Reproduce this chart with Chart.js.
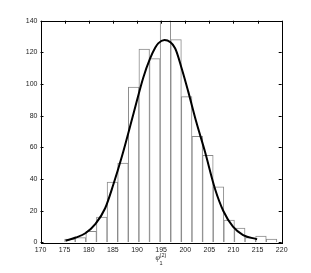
<!DOCTYPE html>
<html>
<head>
<meta charset="utf-8">
<script src="https://cdn.jsdelivr.net/npm/chart.js@4.4.1/dist/chart.umd.min.js"></script>
<style>
  html, body { margin: 0; padding: 0; background: #fff; }
  #wrap { width: 311px; height: 273px; }
</style>
</head>
<body>
<div id="wrap"><canvas id="myChart" width="311" height="273"></canvas></div>
<script>
// histogram bin centres (bin width 2.2) and counts
const binCenters = [176.1, 178.3, 180.5, 182.7, 184.9, 187.1, 189.3, 191.5, 193.7, 195.9,
                    198.1, 200.3, 202.5, 204.7, 206.9, 209.1, 211.3, 213.5, 215.7, 217.9];
const binCounts  = [2, 3, 7, 16, 38, 50, 98, 122, 116, 145,
                    128, 92, 67, 55, 35, 14, 9, 3, 4, 2];

// fitted curve
const curveX = [175.2, 177.3, 179.3, 181.4, 183.4, 185.1, 186.9, 189.3, 191.3, 192.7,
                193.8, 194.4, 195.7, 197.9, 199.3, 200.6, 202.3, 204.1, 206.2, 207.9,
                209.9, 212.0, 214.9];
const curveY = [1.0, 3.0, 5.7, 11.6, 21.5, 36.5, 54.5, 81.5, 104.0, 116.0,
                123.0, 125.7, 127.8, 122.6, 109.5, 95.5, 76.0, 57.2, 33.5, 19.8,
                9.9, 4.6, 1.9];

const xTicks = [170, 175, 180, 185, 190, 195, 200, 205, 210, 215, 220];
const yTicks = [0, 20, 40, 60, 80, 100, 120, 140];

const tickFont = { family: "'Liberation Sans', Arial, sans-serif", size: 7 };

// box + inward tick marks, and the axis label
const boxPlugin = {
    id: 'box',
    afterDraw(chart) {
        const ctx = chart.ctx;
        const a = chart.chartArea;
        const xs = chart.scales.x, ys = chart.scales.y;
        ctx.save();
        ctx.strokeStyle = '#000';
        ctx.lineWidth = 1;
        ctx.beginPath();
        xTicks.forEach(v => {
            const px = Math.round(xs.getPixelForValue(v)) + 0.5;
            ctx.moveTo(px, a.top); ctx.lineTo(px, a.top + 3);
        });
        yTicks.forEach(v => {
            const py = Math.round(ys.getPixelForValue(v)) + 0.5;
            ctx.moveTo(a.left, py); ctx.lineTo(a.left + 3, py);
            ctx.moveTo(a.right, py); ctx.lineTo(a.right - 3, py);
        });
        ctx.stroke();
        ctx.strokeRect(Math.round(a.left) + 0.5, Math.round(a.top) + 0.5,
                       Math.round(a.right - a.left), Math.round(a.bottom - a.top));

        // phi_1^(2)
        ctx.fillStyle = '#222';
        ctx.textBaseline = 'alphabetic';
        ctx.font = "italic 8px 'Liberation Serif', serif";
        ctx.fillText('φ', 155.5, 260);
        ctx.font = "5.5px 'Liberation Sans', sans-serif";
        ctx.fillText('(2)', 159.6, 256.5);
        ctx.fillText('1', 159.6, 264.5);
        ctx.restore();
    }
};

new Chart(document.getElementById('myChart').getContext('2d'), {
    type: 'bar',
    data: {
        datasets: [
            {
                type: 'line',
                data: curveX.map((x, i) => ({ x: x, y: curveY[i] })),
                borderColor: '#000',
                borderWidth: 2,
                pointRadius: 0,
                cubicInterpolationMode: 'monotone',
                fill: false,
                order: 0
            },
            {
                type: 'bar',
                data: binCenters.map((x, i) => ({ x: x, y: binCounts[i] })),
                backgroundColor: '#fff',
                borderColor: '#8a8a8a',
                borderWidth: 1,
                barPercentage: 1.0,
                categoryPercentage: 1.0,
                clip: 0,
                order: 1
            }
        ]
    },
    options: {
        responsive: false,
        animation: false,
        layout: { padding: { top: 20.7, right: 29.3, bottom: 0, left: 0 } },
        plugins: { legend: { display: false }, tooltip: { enabled: false } },
        scales: {
            x: {
                type: 'linear',
                min: 170, max: 220,
                offset: false,
                grid: { display: false, drawTicks: false },
                border: { display: false },
                ticks: { stepSize: 5, font: tickFont, color: '#222', padding: 4, maxRotation: 0 },
                afterFit(scale) { scale.height = 30.7; }
            },
            y: {
                min: 0, max: 140,
                grid: { display: false, drawTicks: false },
                border: { display: false },
                ticks: { stepSize: 20, font: tickFont, color: '#222', padding: 3 },
                afterFit(scale) { scale.width = 40.5; }
            }
        }
    },
    plugins: [boxPlugin]
});
</script>
</body>
</html>
